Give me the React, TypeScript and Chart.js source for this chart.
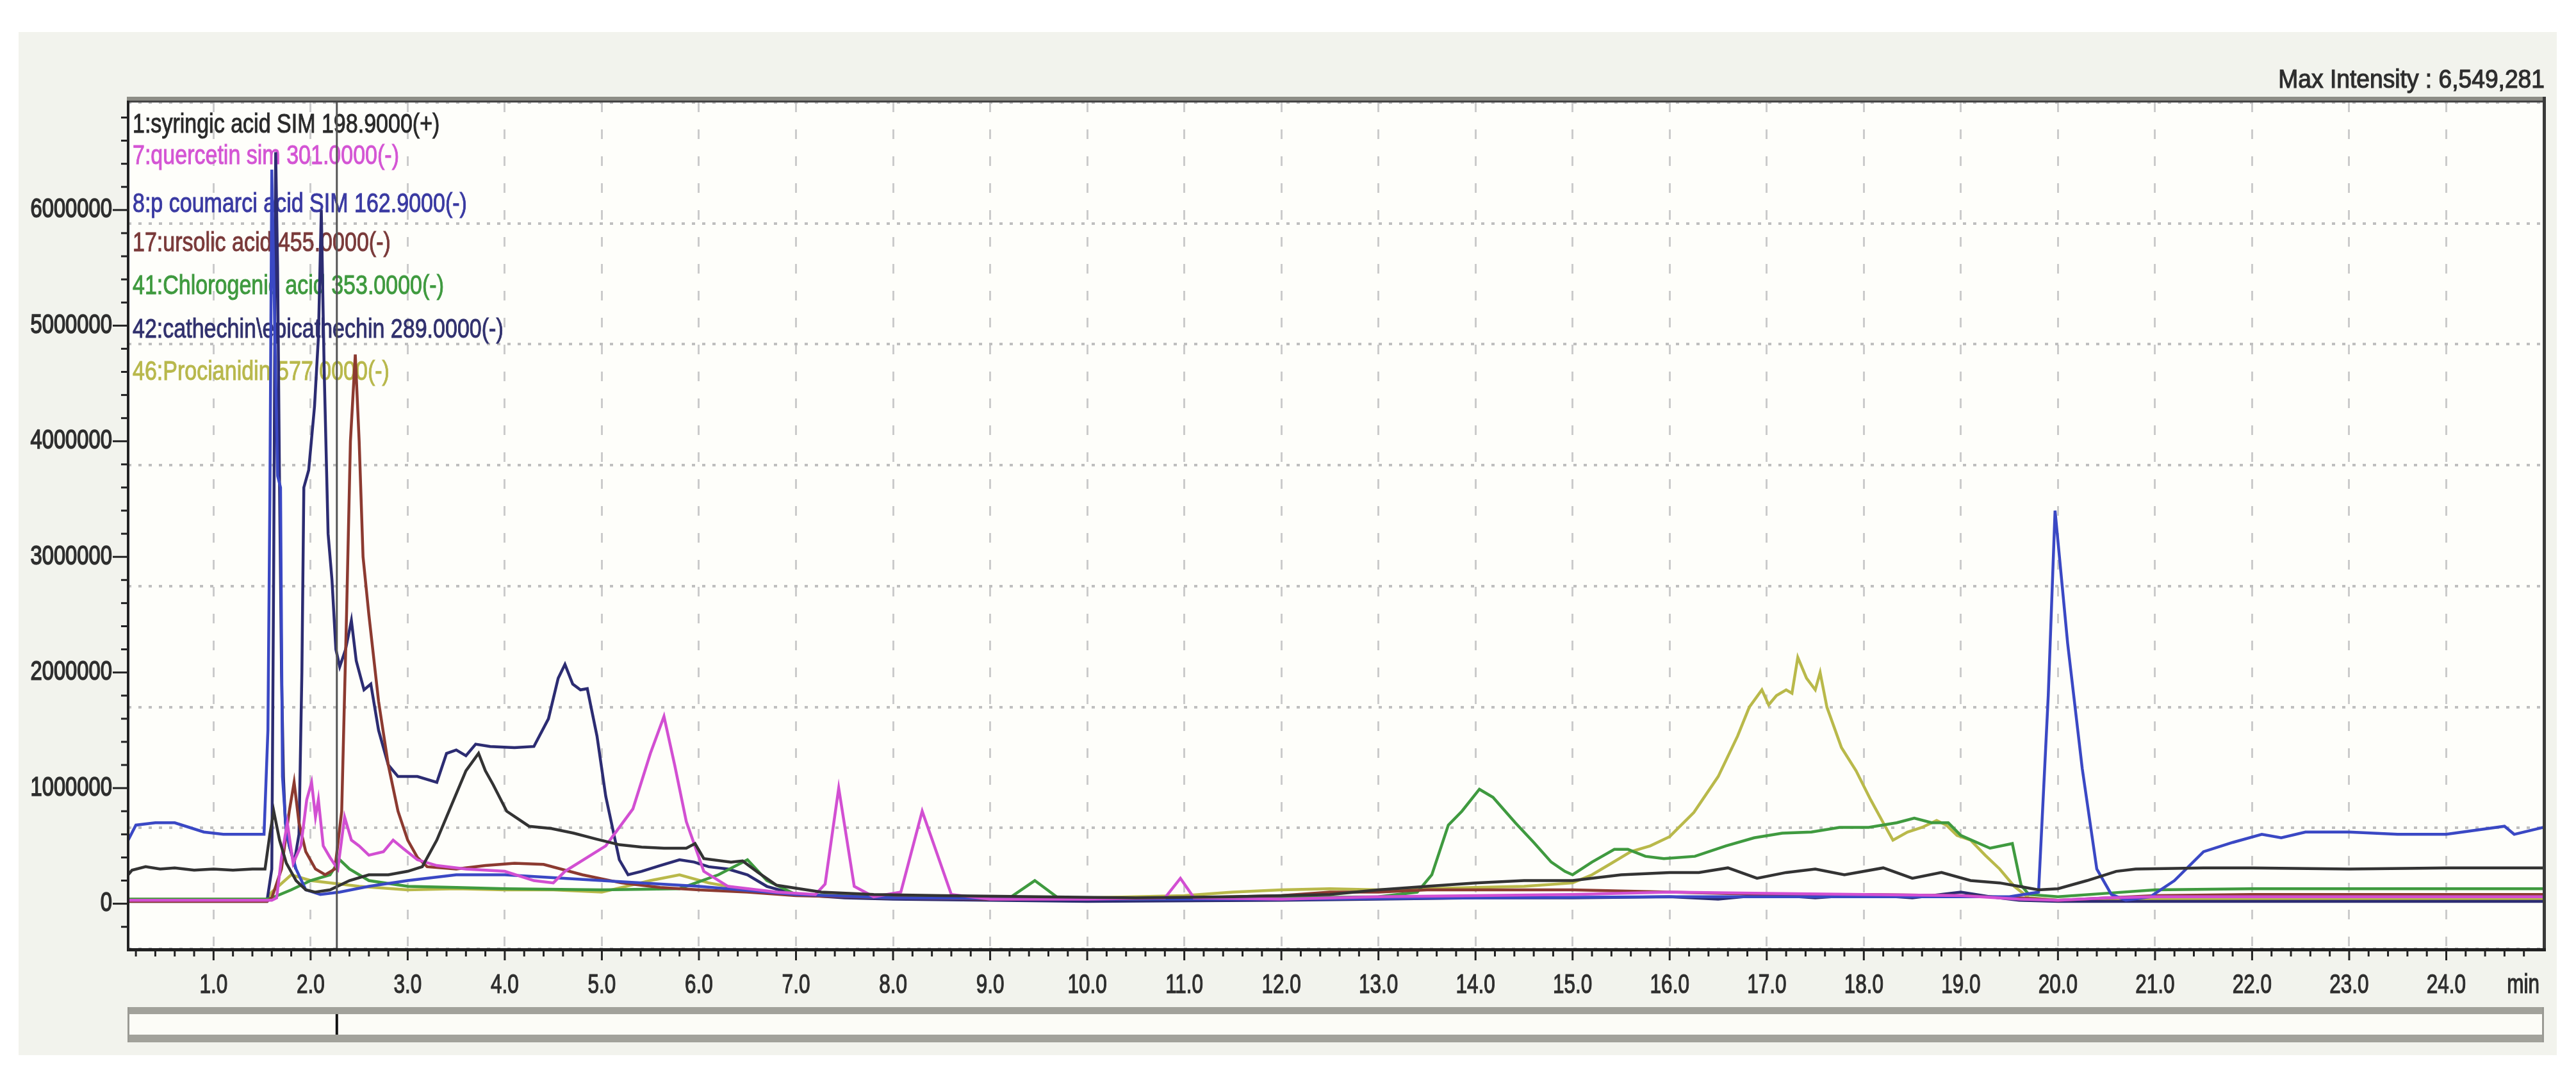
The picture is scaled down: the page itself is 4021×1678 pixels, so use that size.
import React, { useEffect, useRef } from 'react';
import { Chart, registerables } from 'chart.js';

Chart.register(...registerables);

// ---- data (retention time in min, intensity in millions of counts) ----
const MILLION = 1000000;

const syringicAcid: [number, number][] = [
  [0.12, 0.25], [0.16, 0.29], [0.3, 0.32], [0.45, 0.3], [0.6, 0.31], [0.8, 0.29], [1.0, 0.3], [1.2, 0.29],
  [1.4, 0.3], [1.53, 0.3], [1.58, 0.6], [1.62, 0.8], [1.68, 0.55], [1.75, 0.35], [1.85, 0.2], [1.95, 0.12],
  [2.05, 0.1], [2.2, 0.12], [2.4, 0.2], [2.6, 0.25], [2.8, 0.25], [3.0, 0.28], [3.15, 0.32], [3.3, 0.55],
  [3.45, 0.85], [3.6, 1.15], [3.73, 1.3], [3.8, 1.15], [3.88, 1.03], [4.02, 0.8], [4.25, 0.67], [4.48, 0.65],
  [4.71, 0.61], [4.94, 0.56], [5.18, 0.51], [5.41, 0.49], [5.64, 0.48], [5.87, 0.48], [5.96, 0.52], [6.05, 0.39],
  [6.33, 0.36], [6.45, 0.37], [6.61, 0.27], [6.8, 0.16], [7.26, 0.1], [7.8, 0.08], [8.5, 0.07], [9.5, 0.06],
  [10.5, 0.05], [11.5, 0.06], [12.5, 0.08], [13.0, 0.12], [13.5, 0.15], [14.0, 0.18], [14.5, 0.2], [15.0, 0.2],
  [15.5, 0.25], [16.0, 0.27], [16.3, 0.27], [16.6, 0.31], [16.9, 0.22], [17.2, 0.27], [17.5, 0.3], [17.8, 0.25],
  [18.2, 0.31], [18.5, 0.22], [18.8, 0.27], [19.1, 0.2], [19.4, 0.18], [19.6, 0.15], [19.8, 0.12], [20.0, 0.13],
  [20.3, 0.2], [20.6, 0.28], [20.8, 0.3], [21.5, 0.31], [22.0, 0.31], [23.0, 0.3], [24.0, 0.31], [25.0, 0.31],
];

const quercetin: [number, number][] = [
  [0.12, 0.03], [1.0, 0.03], [1.6, 0.03], [1.65, 0.05], [1.7, 0.4], [1.76, 0.7], [1.82, 0.35], [1.9, 0.5],
  [1.96, 0.9], [2.01, 1.05], [2.05, 0.75], [2.08, 0.9], [2.13, 0.5], [2.2, 0.4], [2.28, 0.3], [2.35, 0.75],
  [2.42, 0.55], [2.5, 0.5], [2.6, 0.42], [2.75, 0.45], [2.85, 0.55], [2.95, 0.48], [3.1, 0.38], [3.3, 0.33],
  [3.6, 0.3], [4.0, 0.28], [4.3, 0.2], [4.5, 0.18], [4.62, 0.28], [5.04, 0.5], [5.32, 0.82], [5.5, 1.3],
  [5.64, 1.62], [5.75, 1.2], [5.87, 0.71], [6.05, 0.28], [6.3, 0.15], [6.8, 0.1], [7.2, 0.08], [7.3, 0.17],
  [7.44, 1.0], [7.6, 0.15], [7.8, 0.06], [8.08, 0.1], [8.3, 0.8], [8.6, 0.08], [9.0, 0.04], [10.0, 0.04],
  [10.8, 0.05], [10.96, 0.22], [11.1, 0.05], [12.0, 0.04], [13.0, 0.06], [14.0, 0.07], [15.0, 0.08], [16.0, 0.1],
  [17.0, 0.09], [18.0, 0.08], [19.0, 0.07], [19.6, 0.04], [20.0, 0.03], [20.5, 0.05], [21.0, 0.06], [22.0, 0.06],
  [25.0, 0.06],
];

const pCoumaricAcid: [number, number][] = [
  [0.12, 0.55], [0.2, 0.68], [0.4, 0.7], [0.6, 0.7], [0.75, 0.66], [0.9, 0.62], [1.1, 0.6], [1.3, 0.6],
  [1.52, 0.6], [1.56, 1.5], [1.58, 3.5], [1.6, 6.35], [1.63, 5.0], [1.66, 3.7], [1.69, 3.6], [1.71, 1.1],
  [1.75, 0.6], [1.85, 0.3], [1.95, 0.12], [2.1, 0.08], [2.3, 0.1], [2.6, 0.15], [3.0, 0.2], [3.5, 0.25],
  [4.0, 0.25], [5.0, 0.2], [6.0, 0.15], [7.0, 0.08], [8.0, 0.05], [10.0, 0.04], [12.0, 0.04], [14.0, 0.05],
  [16.0, 0.06], [18.0, 0.06], [19.5, 0.06], [19.8, 0.1], [19.9, 1.8], [19.97, 3.4], [20.1, 2.25], [20.25, 1.17],
  [20.4, 0.3], [20.55, 0.08], [20.7, 0.03], [20.95, 0.06], [21.2, 0.2], [21.5, 0.45], [21.8, 0.53], [22.1, 0.6],
  [22.3, 0.57], [22.55, 0.62], [23.0, 0.62], [23.5, 0.6], [24.0, 0.6], [24.6, 0.67], [24.7, 0.6], [25.0, 0.66],
];

const ursolicAcid: [number, number][] = [
  [0.12, 0.02], [1.0, 0.02], [1.55, 0.02], [1.6, 0.05], [1.7, 0.3], [1.78, 0.8], [1.83, 1.05], [1.88, 0.7],
  [1.95, 0.45], [2.05, 0.3], [2.15, 0.25], [2.25, 0.3], [2.32, 0.8], [2.37, 2.5], [2.41, 4.0], [2.46, 4.75],
  [2.5, 4.0], [2.54, 3.0], [2.6, 2.5], [2.7, 1.75], [2.8, 1.2], [2.9, 0.8], [3.0, 0.55], [3.1, 0.4],
  [3.2, 0.32], [3.5, 0.3], [3.8, 0.33], [4.1, 0.35], [4.4, 0.34], [4.8, 0.25], [5.2, 0.18], [5.6, 0.14],
  [6.0, 0.12], [6.5, 0.1], [7.0, 0.07], [8.0, 0.05], [9.0, 0.04], [10.0, 0.04], [11.0, 0.05], [12.0, 0.07],
  [12.5, 0.1], [13.0, 0.1], [13.5, 0.12], [14.0, 0.12], [15.0, 0.12], [16.0, 0.1], [17.0, 0.08], [18.0, 0.08],
  [19.0, 0.07], [19.6, 0.05], [20.0, 0.03], [21.0, 0.07], [22.0, 0.08], [23.0, 0.08], [24.0, 0.08], [25.0, 0.08],
];

const chlorogenicAcid: [number, number][] = [
  [0.12, 0.04], [1.0, 0.04], [1.55, 0.04], [1.6, 0.05], [1.8, 0.12], [2.0, 0.2], [2.2, 0.25], [2.3, 0.38],
  [2.4, 0.3], [2.6, 0.2], [3.0, 0.15], [3.5, 0.14], [4.0, 0.13], [5.0, 0.12], [5.8, 0.13], [6.2, 0.25],
  [6.5, 0.38], [6.7, 0.2], [7.0, 0.08], [8.0, 0.05], [9.2, 0.05], [9.46, 0.2], [9.7, 0.05], [10.5, 0.04],
  [12.0, 0.05], [13.0, 0.06], [13.4, 0.1], [13.55, 0.25], [13.72, 0.68], [13.86, 0.8], [14.04, 0.99], [14.18, 0.92],
  [14.41, 0.7], [14.6, 0.53], [14.78, 0.36], [14.92, 0.28], [15.0, 0.25], [15.2, 0.36], [15.43, 0.47], [15.57, 0.47],
  [15.75, 0.41], [15.94, 0.39], [16.26, 0.41], [16.58, 0.5], [16.87, 0.57], [17.16, 0.61], [17.46, 0.62], [17.75, 0.66],
  [18.05, 0.66], [18.34, 0.7], [18.52, 0.74], [18.7, 0.7], [18.87, 0.7], [19.0, 0.59], [19.3, 0.48], [19.53, 0.52],
  [19.62, 0.16], [19.7, 0.08], [20.0, 0.06], [20.5, 0.09], [21.0, 0.12], [22.0, 0.13], [25.0, 0.13],
];

const cathechin: [number, number][] = [
  [0.12, 0.02], [1.0, 0.02], [1.55, 0.02], [1.6, 0.3], [1.62, 3.0], [1.64, 6.5], [1.66, 5.5], [1.68, 3.6],
  [1.7, 2.0], [1.72, 1.1], [1.74, 0.7], [1.78, 0.5], [1.83, 0.35], [1.88, 0.6], [1.91, 2.0], [1.93, 3.6],
  [1.98, 3.75], [2.04, 4.3], [2.08, 4.9], [2.11, 6.0], [2.14, 4.6], [2.18, 3.2], [2.22, 2.8], [2.26, 2.2],
  [2.3, 2.05], [2.36, 2.2], [2.42, 2.45], [2.47, 2.1], [2.55, 1.85], [2.62, 1.9], [2.7, 1.5], [2.8, 1.2],
  [2.9, 1.1], [3.1, 1.1], [3.3, 1.05], [3.4, 1.3], [3.5, 1.33], [3.6, 1.28], [3.7, 1.38], [3.85, 1.36],
  [4.1, 1.35], [4.3, 1.36], [4.45, 1.6], [4.55, 1.95], [4.62, 2.07], [4.7, 1.9], [4.78, 1.85], [4.85, 1.86],
  [4.95, 1.45], [5.04, 0.93], [5.18, 0.38], [5.27, 0.25], [5.41, 0.28], [5.6, 0.33], [5.8, 0.38], [5.95, 0.36],
  [6.1, 0.32], [6.3, 0.3], [6.5, 0.25], [6.7, 0.15], [7.0, 0.08], [7.5, 0.05], [8.0, 0.04], [9.0, 0.03],
  [10.0, 0.02], [12.0, 0.03], [13.0, 0.04], [14.0, 0.05], [15.0, 0.05], [16.0, 0.06], [16.5, 0.04], [17.0, 0.08],
  [17.5, 0.05], [18.0, 0.08], [18.5, 0.05], [19.0, 0.1], [19.3, 0.06], [19.6, 0.03], [20.0, 0.02], [21.0, 0.02],
  [25.0, 0.02],
];

const procianidin: [number, number][] = [
  [0.12, 0.04], [1.0, 0.04], [1.55, 0.04], [1.6, 0.1], [1.8, 0.25], [2.0, 0.2], [2.5, 0.15], [3.0, 0.12],
  [3.5, 0.13], [4.0, 0.12], [4.5, 0.12], [5.0, 0.1], [5.5, 0.2], [5.8, 0.25], [6.1, 0.18], [6.5, 0.12],
  [7.0, 0.08], [8.0, 0.06], [9.0, 0.05], [10.0, 0.05], [11.0, 0.07], [11.5, 0.1], [12.0, 0.12], [12.5, 0.13],
  [13.0, 0.12], [13.5, 0.13], [14.0, 0.14], [14.5, 0.15], [15.0, 0.18], [15.2, 0.25], [15.4, 0.35], [15.6, 0.45],
  [15.8, 0.5], [16.0, 0.58], [16.25, 0.79], [16.5, 1.1], [16.7, 1.45], [16.82, 1.7], [16.95, 1.85], [17.02, 1.72],
  [17.1, 1.8], [17.2, 1.85], [17.26, 1.82], [17.32, 2.13], [17.41, 1.95], [17.5, 1.85], [17.55, 2.0], [17.62, 1.7],
  [17.77, 1.35], [17.92, 1.15], [18.07, 0.9], [18.2, 0.7], [18.3, 0.55], [18.45, 0.62], [18.6, 0.66], [18.75, 0.72],
  [18.85, 0.68], [18.96, 0.59], [19.1, 0.55], [19.25, 0.42], [19.4, 0.3], [19.55, 0.15], [19.7, 0.05], [20.0, 0.03],
  [21.0, 0.04], [25.0, 0.04],
];

const seriesLabels = [
  '1:syringic acid SIM 198.9000(+)',
  '7:quercetin sim 301.0000(-)',
  '8:p coumarci acid SIM 162.9000(-)',
  '17:ursolic acid 455.0000(-)',
  '41:Chlorogenic acid 353.0000(-)',
  '42:cathechin\\epicathechin 289.0000(-)',
  '46:Procianidin 577.0000(-)',
];
const seriesData = [syringicAcid, quercetin, pCoumaricAcid, ursolicAcid, chlorogenicAcid, cathechin, procianidin];
const lineColors = ['#333333', '#d24fd2', '#3a48c4', '#8c3a30', '#3f9a3f', '#2c2c72', '#b9b94a'];
const labelColors = ['#2a2a2a', '#d455d4', '#3a3aa2', '#7a3a3a', '#3f9a3f', '#31316e', '#b8b84c'];

const xTickLabels = ['1.0', '2.0', '3.0', '4.0', '5.0', '6.0', '7.0', '8.0', '9.0', '10.0', '11.0', '12.0',
  '13.0', '14.0', '15.0', '16.0', '17.0', '18.0', '19.0', '20.0', '21.0', '22.0', '23.0', '24.0'];
const yTickLabels = ['0', '1000000', '2000000', '3000000', '4000000', '5000000', '6000000'];
const xUnitLabel = 'min';
const maxIntensityText = 'Max Intensity : 6,549,281';
const cursorTime = 2.27;

const X_MIN = 0.12;
const X_MAX = 25.0;
const Y_MIN = -0.39 * MILLION;
const Y_MAX = 6.93 * MILLION;

const W = 4021;
const H = 1678;
const FONT = '"Liberation Sans", Arial, "DejaVu Sans", sans-serif';

function squeezedText(ctx: CanvasRenderingContext2D, text: string, x: number, y: number,
  size: number, color: string, sx: number, align: 'left' | 'right' | 'center', weight = 1.2) {
  ctx.save();
  ctx.font = `${size}px ${FONT}`;
  ctx.fillStyle = color;
  ctx.strokeStyle = color;
  ctx.lineWidth = weight;
  ctx.textBaseline = 'middle';
  ctx.textAlign = 'left';
  const w = ctx.measureText(text).width * sx;
  let left = x;
  if (align === 'right') left = x - w;
  else if (align === 'center') left = x - w / 2;
  ctx.translate(left, y);
  ctx.scale(sx, 1);
  ctx.fillText(text, 0, 0);
  if (weight > 0) ctx.strokeText(text, 0, 0);
  ctx.restore();
}

const legendYs = [195, 244, 319, 380, 447, 515, 581];

const decorPlugin = {
  id: 'decor',
  beforeDraw(chart: any) {
    const ctx: CanvasRenderingContext2D = chart.ctx;
    const a = chart.chartArea;
    ctx.save();
    ctx.fillStyle = '#ffffff';
    ctx.fillRect(0, 0, W, H);
    ctx.fillStyle = '#f2f3ed';
    ctx.fillRect(29, 50, 3962, 1597);
    ctx.fillStyle = '#fefefa';
    ctx.fillRect(a.left, a.top, a.right - a.left, a.bottom - a.top);
    ctx.restore();
  },
  beforeDatasetsDraw(chart: any) {
    const ctx: CanvasRenderingContext2D = chart.ctx;
    const a = chart.chartArea;
    seriesLabels.forEach((t, i) => {
      squeezedText(ctx, t, a.left + 7, legendYs[i], 42, labelColors[i], 0.81, 'left', 1.0);
    });
  },
  afterDraw(chart: any) {
    const ctx: CanvasRenderingContext2D = chart.ctx;
    const a = chart.chartArea;
    const xs = chart.scales.x;
    const ys = chart.scales.y;
    ctx.save();
    // cursor line
    const cx = xs.getPixelForValue(cursorTime);
    ctx.strokeStyle = '#555555';
    ctx.lineWidth = 3;
    ctx.beginPath();
    ctx.moveTo(cx, a.top);
    ctx.lineTo(cx, a.bottom);
    ctx.stroke();

    // frame
    ctx.fillStyle = '#8d8d86';
    ctx.fillRect(a.left - 2, a.top - 9, a.right - a.left + 6, 9);
    ctx.fillStyle = '#444444';
    ctx.fillRect(a.left - 2, a.top - 3, a.right - a.left + 6, 3);
    ctx.fillStyle = '#3a3a3a';
    ctx.fillRect(a.right - 1, a.top - 9, 5, a.bottom - a.top + 9);
    ctx.fillStyle = '#222222';
    ctx.fillRect(a.left - 2, a.top - 3, 4, a.bottom - a.top + 3);
    ctx.fillRect(a.left - 2, a.bottom - 1, a.right - a.left + 6, 5);

    // x ticks
    ctx.strokeStyle = '#222222';
    ctx.lineWidth = 3;
    for (let k = 1; k <= 124; k++) {
      const v = k * 0.2;
      if (v <= X_MIN || v >= X_MAX - 0.01) continue;
      const major = k % 5 === 0;
      const px = xs.getPixelForValue(v);
      ctx.beginPath();
      ctx.moveTo(px, a.bottom + 2);
      ctx.lineTo(px, a.bottom + (major ? 18 : 12));
      ctx.stroke();
    }
    xTickLabels.forEach((lab) => {
      const px = xs.getPixelForValue(parseFloat(lab));
      squeezedText(ctx, lab, px, 1538, 42, '#2e2e2e', 0.75, 'center');
    });
    squeezedText(ctx, xUnitLabel, a.right - 6, 1538, 42, '#2e2e2e', 0.75, 'right');

    // y ticks
    for (let k = -1; k <= 34; k++) {
      const v = k * 0.2 * MILLION;
      if (v <= Y_MIN || v >= Y_MAX) continue;
      const major = k % 5 === 0;
      const py = ys.getPixelForValue(v);
      ctx.beginPath();
      ctx.moveTo(a.left - 1, py);
      ctx.lineTo(a.left - (major ? 24 : 11), py);
      ctx.stroke();
    }
    yTickLabels.forEach((lab) => {
      const py = ys.getPixelForValue(parseFloat(lab));
      squeezedText(ctx, lab, a.left - 25, py, 42, '#2e2e2e', 0.78, 'right', 1.6);
    });

    // max intensity
    squeezedText(ctx, maxIntensityText, a.right + 2, 126, 40, '#2e2e2e', 0.93, 'right');

    // scroll bar
    const sbTop = 1572;
    const sbBot = 1627;
    ctx.fillStyle = '#fcfcf7';
    ctx.fillRect(a.left, sbTop, a.right - a.left, sbBot - sbTop);
    ctx.fillStyle = '#a2a29b';
    ctx.fillRect(a.left, sbTop, a.right - a.left, 11);
    ctx.fillRect(a.left, sbBot - 12, a.right - a.left, 12);
    ctx.fillStyle = '#9a9a94';
    ctx.fillRect(a.left - 1, sbTop, 3, sbBot - sbTop);
    ctx.fillRect(a.right - 2, sbTop, 3, sbBot - sbTop);
    ctx.strokeStyle = '#111111';
    ctx.lineWidth = 4;
    ctx.beginPath();
    ctx.moveTo(cx, sbTop + 11);
    ctx.lineTo(cx, sbBot - 12);
    ctx.stroke();
    ctx.restore();
  },
};

export default function App() {
  const canvasRef = useRef<HTMLCanvasElement | null>(null);

  useEffect(() => {
    const canvas = canvasRef.current;
    if (!canvas) return;
    const datasets = seriesData.map((pts, i) => ({
      label: seriesLabels[i],
      data: pts.map(([t, v]) => ({ x: t, y: v * MILLION })),
      borderColor: lineColors[i],
      backgroundColor: lineColors[i],
      borderWidth: 4.5,
      pointRadius: 0,
      tension: 0,
      fill: false,
    }));
    const chart = new Chart(canvas, {
      type: 'line',
      data: { datasets },
      options: {
        responsive: false,
        maintainAspectRatio: false,
        animation: false,
        devicePixelRatio: 1,
        layout: { padding: { left: 200, top: 160, right: 51, bottom: 197 } },
        plugins: { legend: { display: false }, tooltip: { enabled: false } },
        scales: {
          x: {
            type: 'linear',
            min: X_MIN,
            max: X_MAX,
            ticks: { display: false, stepSize: 1 },
            grid: { color: '#cbcbcb', lineWidth: 3, drawTicks: false },
            border: { display: false, dash: [15, 27] },
            afterFit: (s: any) => { s.height = 0; },
          },
          y: {
            type: 'linear',
            min: Y_MIN,
            max: Y_MAX,
            ticks: { display: false, stepSize: MILLION },
            grid: { color: '#bfbfbf', lineWidth: 4, drawTicks: false },
            border: { display: false, dash: [5, 11] },
            afterFit: (s: any) => { s.width = 0; },
          },
        },
      } as any,
      plugins: [decorPlugin],
    });
    return () => chart.destroy();
  }, []);

  return (
    <div style={{ position: 'absolute', left: 0, top: 0, width: W, height: H }}>
      <canvas ref={canvasRef} width={W} height={H} style={{ width: W, height: H, display: 'block' }} />
    </div>
  );
}
